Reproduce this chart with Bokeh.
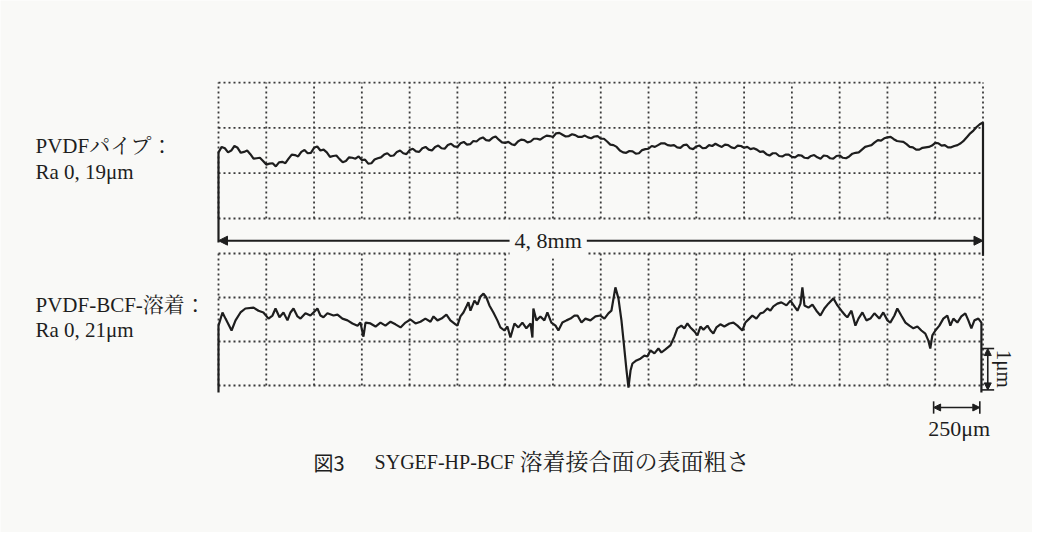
from bokeh.plotting import figure
from bokeh.models import Range1d, Arrow, NormalHead, Label
from bokeh.core.properties import value
from bokeh.embed import file_html
from bokeh.resources import INLINE

# ---------------- data ----------------
grid_x_mm = [0.0, 0.3, 0.6, 0.9, 1.2, 1.5, 1.8, 2.1, 2.4, 2.7, 3.0, 3.3, 3.6, 3.9, 4.2, 4.5, 4.8]
grid_y_um = [0, 1, 2, 3]

# PVDF pipe profile, sampled every 0.02 mm
pipe_x_mm = [round(0.02 * i, 2) for i in range(241)]
pipe_um = [1.46, 1.58, 1.55, 1.46, 1.50, 1.60, 1.56, 1.45, 1.47, 1.50, 1.42, 1.32, 1.33, 1.34, 1.27, 1.19, 1.21, 1.22, 1.15, 1.24,
           1.25, 1.22, 1.32, 1.41, 1.40, 1.37, 1.47, 1.51, 1.44, 1.45, 1.56, 1.59, 1.50, 1.52, 1.46, 1.36, 1.38, 1.39, 1.31, 1.24,
           1.27, 1.35, 1.34, 1.32, 1.37, 1.29, 1.30, 1.21, 1.22, 1.30, 1.33, 1.35, 1.41, 1.44, 1.38, 1.39, 1.47, 1.50, 1.44, 1.42,
           1.51, 1.54, 1.48, 1.47, 1.55, 1.58, 1.52, 1.50, 1.58, 1.61, 1.55, 1.54, 1.62, 1.65, 1.59, 1.58, 1.66, 1.69, 1.63, 1.64,
           1.71, 1.70, 1.76, 1.79, 1.73, 1.72, 1.78, 1.81, 1.74, 1.68, 1.67, 1.69, 1.64, 1.62, 1.70, 1.74, 1.73, 1.68, 1.70, 1.76,
           1.76, 1.74, 1.79, 1.83, 1.82, 1.80, 1.88, 1.89, 1.85, 1.81, 1.82, 1.86, 1.84, 1.80, 1.80, 1.83, 1.79, 1.77, 1.81, 1.82,
           1.76, 1.76, 1.70, 1.63, 1.62, 1.58, 1.50, 1.46, 1.45, 1.49, 1.48, 1.43, 1.44, 1.51, 1.53, 1.54, 1.60, 1.58, 1.62, 1.66,
           1.66, 1.62, 1.61, 1.62, 1.57, 1.56, 1.62, 1.63, 1.55, 1.53, 1.59, 1.61, 1.55, 1.56, 1.62, 1.60, 1.65, 1.61, 1.58, 1.63,
           1.62, 1.57, 1.55, 1.61, 1.60, 1.56, 1.58, 1.53, 1.55, 1.52, 1.47, 1.48, 1.42, 1.39, 1.44, 1.44, 1.38, 1.37, 1.41, 1.41,
           1.36, 1.35, 1.40, 1.39, 1.34, 1.33, 1.38, 1.40, 1.35, 1.32, 1.39, 1.38, 1.33, 1.32, 1.38, 1.39, 1.34, 1.33, 1.37, 1.43,
           1.45, 1.46, 1.52, 1.58, 1.60, 1.62, 1.68, 1.73, 1.72, 1.77, 1.79, 1.80, 1.75, 1.71, 1.70, 1.69, 1.64, 1.58, 1.57, 1.52,
           1.52, 1.56, 1.57, 1.58, 1.61, 1.67, 1.66, 1.61, 1.62, 1.57, 1.57, 1.60, 1.62, 1.66, 1.72, 1.80, 1.88, 1.94, 2.02, 2.08,
           2.12]

# PVDF-BCF weld profile
weld_x_mm = [0.000, 0.025, 0.044, 0.082, 0.107, 0.138, 0.169, 0.220, 0.251, 0.282,
             0.314, 0.339, 0.358, 0.383, 0.408, 0.433, 0.452, 0.471, 0.496, 0.515,
             0.546, 0.577, 0.603, 0.621, 0.640, 0.659, 0.684, 0.722, 0.747, 0.778,
             0.810, 0.841, 0.873, 0.891, 0.910, 0.923, 0.954, 0.986, 1.017, 1.048,
             1.080, 1.111, 1.143, 1.174, 1.205, 1.237, 1.268, 1.299, 1.331, 1.350,
             1.375, 1.400, 1.431, 1.456, 1.488, 1.500, 1.519, 1.538, 1.557, 1.569,
             1.582, 1.607, 1.626, 1.645, 1.664, 1.682, 1.701, 1.726, 1.751, 1.770,
             1.795, 1.814, 1.833, 1.858, 1.883, 1.908, 1.933, 1.959, 1.971, 1.977,
             1.996, 2.021, 2.046, 2.065, 2.090, 2.116, 2.134, 2.159, 2.185, 2.210,
             2.235, 2.254, 2.279, 2.304, 2.335, 2.367, 2.398, 2.423, 2.448, 2.467,
             2.492, 2.511, 2.530, 2.543, 2.562, 2.574, 2.587, 2.599, 2.624, 2.649,
             2.674, 2.693, 2.712, 2.737, 2.762, 2.781, 2.806, 2.837, 2.862, 2.881,
             2.906, 2.925, 2.944, 2.963, 2.988, 3.007, 3.026, 3.045, 3.070, 3.089,
             3.107, 3.126, 3.151, 3.176, 3.208, 3.233, 3.258, 3.289, 3.308, 3.333,
             3.352, 3.377, 3.402, 3.421, 3.446, 3.465, 3.484, 3.509, 3.534, 3.566,
             3.591, 3.616, 3.635, 3.654, 3.666, 3.679, 3.704, 3.729, 3.754, 3.779,
             3.804, 3.829, 3.861, 3.886, 3.911, 3.936, 3.948, 3.974, 3.999, 4.018,
             4.043, 4.068, 4.093, 4.118, 4.149, 4.174, 4.200, 4.218, 4.244, 4.262,
             4.287, 4.313, 4.338, 4.363, 4.388, 4.413, 4.438, 4.457, 4.469, 4.482,
             4.501, 4.526, 4.551, 4.576, 4.595, 4.614, 4.639, 4.664, 4.689, 4.708,
             4.727, 4.746, 4.771, 4.790]
weld_um = [1.36, 1.66, 1.52, 1.25, 1.48, 1.66, 1.75, 1.77, 1.70, 1.66,
           1.52, 1.59, 1.75, 1.55, 1.66, 1.48, 1.66, 1.75, 1.57, 1.52,
           1.64, 1.59, 1.68, 1.75, 1.59, 1.55, 1.64, 1.59, 1.61, 1.52,
           1.48, 1.41, 1.36, 1.43, 1.11, 1.43, 1.41, 1.34, 1.43, 1.36,
           1.45, 1.39, 1.32, 1.43, 1.50, 1.41, 1.45, 1.52, 1.45, 1.57,
           1.48, 1.52, 1.61, 1.48, 1.39, 1.36, 1.57, 1.66, 1.80, 1.89,
           1.70, 1.93, 1.84, 2.02, 2.09, 2.00, 1.82, 1.66, 1.48, 1.32,
           1.25, 1.34, 1.09, 1.41, 1.32, 1.43, 1.30, 1.41, 1.09, 1.75,
           1.48, 1.57, 1.48, 1.66, 1.43, 1.36, 1.25, 1.43, 1.48, 1.52,
           1.59, 1.59, 1.43, 1.52, 1.48, 1.57, 1.59, 1.52, 1.64, 1.70,
           2.23, 1.98, 1.48, 1.02, 0.34, -0.05, 0.34, 0.50, 0.57, 0.61,
           0.68, 0.66, 0.80, 0.73, 0.84, 0.75, 0.82, 0.91, 1.11, 1.30,
           1.36, 1.30, 1.41, 1.32, 1.23, 1.14, 1.34, 1.27, 1.36, 1.25,
           1.18, 1.32, 1.39, 1.34, 1.41, 1.43, 1.36, 1.25, 1.43, 1.52,
           1.59, 1.52, 1.64, 1.66, 1.75, 1.70, 1.80, 1.86, 1.89, 1.82,
           1.93, 1.80, 1.70, 1.86, 2.23, 1.82, 1.77, 1.84, 1.70, 1.59,
           1.75, 1.86, 1.98, 1.82, 1.70, 1.59, 1.55, 1.70, 1.36, 1.52,
           1.66, 1.48, 1.52, 1.64, 1.52, 1.66, 1.48, 1.43, 1.59, 1.75,
           1.59, 1.43, 1.36, 1.30, 1.34, 1.25, 1.18, 1.02, 0.84, 1.14,
           1.25, 1.36, 1.52, 1.59, 1.36, 1.52, 1.43, 1.57, 1.64, 1.48,
           1.30, 1.48, 1.52, 1.43]

pipe_label = ["PVDFパイプ：", "Ra 0, 19μm"]
weld_label = ["PVDF-BCF-溶着：", "Ra 0, 21μm"]
length_label = "4, 8mm"
scale_x_label = "250μm"
scale_y_label = "1μm"
caption_parts = ["図3", "SYGEF-HP-BCF", "溶着接合面の表面粗さ"]

# ---------------- figure ----------------
INK = "#1e1e1e"
GRID = "#3a3a3a"
BG = "#f9f9f7"
FONT_STR = "'Liberation Serif', 'Noto Serif CJK JP', 'Noto Sans CJK JP', serif"
SERIF = value(FONT_STR)
GOTHIC = value("'Noto Sans CJK JP', sans-serif")

p = figure(width=1032, height=532, output_backend="svg", toolbar_location=None,
           x_range=Range1d(-1.3687, 5.1108), y_range=Range1d(-3.341, 8.750),
           min_border=0, background_fill_color=BG, border_fill_color=BG,
           outline_line_color=None)
p.extra_y_ranges = {"top": Range1d(-6.932, 4.812)}
p.xaxis.visible = False
p.yaxis.visible = False
p.xgrid.visible = False
p.ygrid.visible = False

# dotted grids for both panels
for rng in ("top", "default"):
    p.multi_line(xs=[[gx, gx] for gx in grid_x_mm], ys=[[grid_y_um[0], grid_y_um[-1]]] * len(grid_x_mm),
                 line_color=GRID, line_width=1.8, line_dash="2 3", y_range_name=rng)
    p.multi_line(xs=[[grid_x_mm[0], grid_x_mm[-1]]] * len(grid_y_um), ys=[[gy, gy] for gy in grid_y_um],
                 line_color=GRID, line_width=1.8, line_dash="2 3", y_range_name=rng)

# top profile with its end verticals
p.line(x=[pipe_x_mm[0]] + pipe_x_mm + [pipe_x_mm[-1]],
       y=[-0.53] + pipe_um + [-0.82],
       line_color=INK, line_width=2.2, y_range_name="top")
# bottom profile with its end verticals
p.line(x=[weld_x_mm[0]] + weld_x_mm + [weld_x_mm[-1]],
       y=[-0.16] + weld_um + [-0.16],
       line_color=INK, line_width=2.2)

# 4.8 mm dimension arrow
p.add_layout(Arrow(x_start=0.0, y_start=-0.49, x_end=4.8, y_end=-0.49,
                   start=NormalHead(size=9, fill_color=INK, line_color=INK),
                   end=NormalHead(size=9, fill_color=INK, line_color=INK),
                   line_color=INK, line_width=2, y_range_name="top"))
p.add_layout(Label(x=2.07, y=-0.49, text=length_label, y_range_name="top",
                   text_align="center", text_baseline="middle", text_font=FONT_STR,
                   text_font_size="22px", text_color=INK, padding=5,
                   background_fill_color=BG, background_fill_alpha=1.0))

# 250 µm scale bar
p.add_layout(Arrow(x_start=4.49, y_start=-0.50, x_end=4.78, y_end=-0.50,
                   start=NormalHead(size=7, fill_color=INK, line_color=INK),
                   end=NormalHead(size=7, fill_color=INK, line_color=INK),
                   line_color=INK, line_width=1.6))
p.segment(x0=[4.49, 4.78], y0=[-0.36, -0.36], x1=[4.49, 4.78], y1=[-0.64, -0.64],
          line_color=INK, line_width=1.6)
p.text(x=[4.65], y=[-0.98], text=[scale_x_label], text_align="center", text_baseline="middle",
       text_font=SERIF, text_font_size="22px", text_color=INK)

# 1 µm scale bar
p.add_layout(Arrow(x_start=4.83, y_start=-0.10, x_end=4.83, y_end=0.84,
                   start=NormalHead(size=7, fill_color=INK, line_color=INK),
                   end=NormalHead(size=7, fill_color=INK, line_color=INK),
                   line_color=INK, line_width=1.6))
p.segment(x0=[4.79, 4.79], y0=[0.84, -0.10], x1=[4.87, 4.87], y1=[0.84, -0.10],
          line_color=INK, line_width=1.6)
p.text(x=[4.93], y=[0.38], text=[scale_y_label], angle=-1.5708, text_align="center",
       text_baseline="middle", text_font=SERIF, text_font_size="21px", text_color=INK)

# side labels
p.text(x=[-1.149, -1.149], y=[1.61, 1.02], text=pipe_label, y_range_name="top",
       text_align="left", text_baseline="middle", text_font=SERIF,
       text_font_size="21px", text_color=INK)
p.text(x=[-1.149, -1.149], y=[1.82, 1.25], text=weld_label,
       text_align="left", text_baseline="middle", text_font=SERIF,
       text_font_size="21px", text_color=INK)

# caption (three pieces, as typeset)
p.text(x=[0.596], y=[-1.75], text=[caption_parts[0]], text_align="left", text_baseline="middle",
       text_font=GOTHIC, text_font_size="20px", text_color=INK)
p.text(x=[0.98], y=[-1.75], text=[caption_parts[1]], text_align="left", text_baseline="middle",
       text_font=SERIF, text_font_size="20px", text_color=INK)
p.text(x=[1.89], y=[-1.75], text=[caption_parts[2]], text_align="left", text_baseline="middle",
       text_font=SERIF, text_font_size="23px", text_color=INK)

open("out.html", "w").write(file_html(p, INLINE))
